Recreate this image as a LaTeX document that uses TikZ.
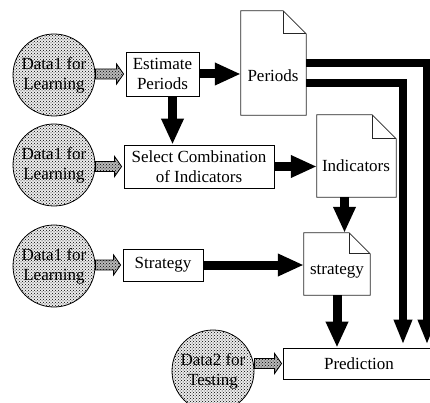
\documentclass[tikz,border=0pt]{standalone}
\usepackage{fontspec}
\setmainfont{Liberation Serif}
\usetikzlibrary{arrows.meta,patterns,calc}
\newcommand\docshape[2]{%
  \draw[docline] (#1.north west) -- ([xshift=-#2pt]#1.north east) -- ([yshift=-#2pt]#1.north east) -- (#1.south east) -- (#1.south west) -- cycle;
  \draw[docline] ([xshift=-#2pt]#1.north east) |- ([yshift=-#2pt]#1.north east);}
\newcommand\hatcharrow[2]{%
  \path[harrow] let \p1=(#1), \p2=(#2) in
    (\x1,\y2+5pt) -- (\x2-7pt,\y2+5pt) -- (\x2-7pt,\y2+10pt) -- (\x2,\y2) --
    (\x2-7pt,\y2-10pt) -- (\x2-7pt,\y2-5pt) -- (\x1,\y2-5pt) -- cycle;}
\begin{document}
\begin{tikzpicture}[x=1pt,y=-1pt,
  every node/.style={font=\fontsize{17}{20}\selectfont, inner sep=0pt},
  datacirc/.style={circle, minimum size=82pt, draw=black, line width=0.8pt, fill=gray!15,
    postaction={pattern=crosshatch dots, pattern color=black}, align=center},
  procbox/.style={draw=black, line width=0.8pt, fill=white, align=center},
  docnode/.style={draw=none, fill=white},
  docline/.style={draw=black!85, line width=0.7pt, line join=miter},
  fat/.style={line width=9pt, -{Triangle[width=21pt,length=26pt]}},
  longfat/.style={line width=8pt, line join=miter, -{Triangle[width=17pt,length=25pt]}},
  harrow/.style={draw=black, line width=0.8pt, fill=gray!55,
    postaction={pattern=crosshatch dots, pattern color=black}}
]
\useasboundingbox (0,0) rectangle (430,403);

% data circles
\node[datacirc] (c1) at (54,75) {Data1 for\\Learning};
\node[datacirc] (c2) at (54,165) {Data1 for\\Learning};
\node[datacirc] (c3) at (54,266) {Data1 for\\Learning};
\node[datacirc] (c4) at (213,371) {Data2 for\\Testing};

% process boxes
\node[procbox, minimum width=73pt, minimum height=44pt] (b1) at (162.5,74) {Estimate\\Periods};
\node[procbox, minimum width=150pt, minimum height=43pt] (b2) at (199,166.5) {Select Combination\\of Indicators};
\node[procbox, minimum width=80pt, minimum height=32pt] (b3) at (163,265) {Strategy};
\node[procbox, minimum width=152pt, minimum height=31pt] (b4) at (359,363.5) {Prediction};

% documents
\node[docnode, minimum width=65pt, minimum height=104pt] (d1) at (273.5,63) {};
\node[docnode, minimum width=79pt, minimum height=82pt] (d2) at (356.5,156) {};
\node[docnode, minimum width=66pt, minimum height=62pt] (d3) at (337,264) {};
\docshape{d1}{23}
\docshape{d2}{24}
\docshape{d3}{21}
\node (t1) at (273,76) {Periods};
\node (t2) at (356,166) {Indicators};
\node (t3) at (337,272) {strategy};

% hatched input arrows
\hatcharrow{c1.east}{[xshift=-2pt]b1.west}
\hatcharrow{c2.east}{[xshift=-2pt]b2.west}
\hatcharrow{c3.east}{[xshift=-2pt]b3.west}
\hatcharrow{c4.east}{[xshift=-1pt]b4.west}

% thick arrows
\draw[fat] (b1.east) -- (b1.east -| d1.west);
\draw[fat] ([xshift=10pt]b1.south) -- ([xshift=10pt]b1.south |- b2.north);
\draw[fat] (b2.east) -- (b2.east -| d2.west);
\draw[fat] ([xshift=-12pt]d2.south) -- ([xshift=-12pt]d2.south |- d3.north);
\draw[fat] (b3.east) -- (b3.east -| d3.west);
\draw[fat] (d3.south) -- (d3.south |- b4.north);

% periods to prediction
\coordinate (o1) at (427,63);
\coordinate (i1) at (403,83);
\draw[longfat] (d1.east) -- (o1) -- ([yshift=3pt]o1 |- b4.north);
\draw[longfat] ([yshift=-20pt]d1.east) -- (i1) -- ([yshift=3pt]i1 |- b4.north);
\end{tikzpicture}
\end{document}
